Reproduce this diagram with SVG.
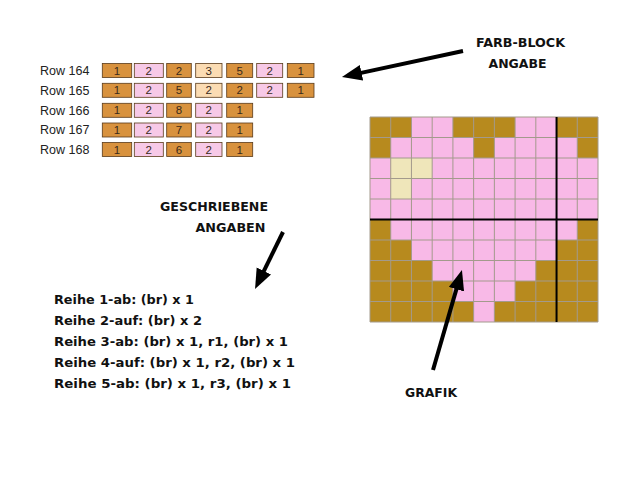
<svg xmlns="http://www.w3.org/2000/svg" width="640" height="480" viewBox="0 0 640 480">
<style>
.rl{font-family:"Liberation Sans",Arial,sans-serif;font-size:12.5px;fill:#222}
.cn{font-family:"Liberation Sans",Arial,sans-serif;font-size:11.5px;fill:#3a2a1a;text-anchor:middle}
.o{fill:#d8923e;stroke:#5a3b1a;stroke-width:0.8}
.p{fill:#f7c9e7;stroke:#5a3b1a;stroke-width:0.8}
.k{fill:#fbdcb3;stroke:#5a3b1a;stroke-width:0.8}
.lb{font-family:"Comic Sans MS","DejaVu Sans","Liberation Sans",sans-serif;font-weight:bold;font-size:12px;fill:#111}
.tx{font-family:"Comic Sans MS","DejaVu Sans","Liberation Sans",sans-serif;font-weight:bold;font-size:11.5px;fill:#111}
.gp{fill:#f8b9e7}
.gc{fill:#efe6ba}
.ar{stroke:#000;stroke-width:4;fill:none;marker-end:url(#ah)}
</style>
<defs>
<marker id="ah" markerUnits="userSpaceOnUse" markerWidth="22" markerHeight="18" refX="4" refY="8" orient="auto">
<path d="M0,0 L20,8 L0,16 z" fill="#000"/>
</marker>
</defs>
<rect width="640" height="480" fill="#fff"/>

<g id="table">
<text class="rl" x="40" y="75">Row 164</text>
<text class="rl" x="40" y="95">Row 165</text>
<text class="rl" x="40" y="114.5">Row 166</text>
<text class="rl" x="40" y="134">Row 167</text>
<text class="rl" x="40" y="153.5">Row 168</text>

<g id="row164">
<rect class="o" x="102.3" y="63.5" width="29.4" height="14"/><text class="cn" x="117" y="74.5">1</text>
<rect class="p" x="134.3" y="63.5" width="29" height="14"/><text class="cn" x="148.8" y="74.5">2</text>
<rect class="o" x="166.7" y="63.5" width="24.6" height="14"/><text class="cn" x="179" y="74.5">2</text>
<rect class="k" x="195.7" y="63.5" width="26.3" height="14"/><text class="cn" x="208.8" y="74.5">3</text>
<rect class="o" x="226.7" y="63.5" width="26" height="14"/><text class="cn" x="239.7" y="74.5">5</text>
<rect class="p" x="256.7" y="63.5" width="26" height="14"/><text class="cn" x="269.7" y="74.5">2</text>
<rect class="o" x="287.3" y="63.5" width="26.7" height="14"/><text class="cn" x="300.6" y="74.5">1</text>
</g>
<g id="row165">
<rect class="o" x="102.3" y="83.3" width="29.4" height="14"/><text class="cn" x="117" y="94.3">1</text>
<rect class="p" x="134.3" y="83.3" width="29" height="14"/><text class="cn" x="148.8" y="94.3">2</text>
<rect class="o" x="166.7" y="83.3" width="24.6" height="14"/><text class="cn" x="179" y="94.3">5</text>
<rect class="k" x="195.7" y="83.3" width="26.3" height="14"/><text class="cn" x="208.8" y="94.3">2</text>
<rect class="o" x="226.7" y="83.3" width="26" height="14"/><text class="cn" x="239.7" y="94.3">2</text>
<rect class="p" x="256.7" y="83.3" width="26" height="14"/><text class="cn" x="269.7" y="94.3">2</text>
<rect class="o" x="287.3" y="83.3" width="26.7" height="14"/><text class="cn" x="300.6" y="94.3">1</text>
</g>
<g id="row166">
<rect class="o" x="102.3" y="103.3" width="29.4" height="14"/><text class="cn" x="117" y="114.3">1</text>
<rect class="p" x="134.3" y="103.3" width="29" height="14"/><text class="cn" x="148.8" y="114.3">2</text>
<rect class="o" x="166.7" y="103.3" width="24.6" height="14"/><text class="cn" x="179" y="114.3">8</text>
<rect class="p" x="195.7" y="103.3" width="26.3" height="14"/><text class="cn" x="208.8" y="114.3">2</text>
<rect class="o" x="226.7" y="103.3" width="26" height="14"/><text class="cn" x="239.7" y="114.3">1</text>
</g>
<g id="row167">
<rect class="o" x="102.3" y="123" width="29.4" height="14"/><text class="cn" x="117" y="134">1</text>
<rect class="p" x="134.3" y="123" width="29" height="14"/><text class="cn" x="148.8" y="134">2</text>
<rect class="o" x="166.7" y="123" width="24.6" height="14"/><text class="cn" x="179" y="134">7</text>
<rect class="p" x="195.7" y="123" width="26.3" height="14"/><text class="cn" x="208.8" y="134">2</text>
<rect class="o" x="226.7" y="123" width="26" height="14"/><text class="cn" x="239.7" y="134">1</text>
</g>
<g id="row168">
<rect class="o" x="102.3" y="142.5" width="29.4" height="14"/><text class="cn" x="117" y="153.5">1</text>
<rect class="p" x="134.3" y="142.5" width="29" height="14"/><text class="cn" x="148.8" y="153.5">2</text>
<rect class="o" x="166.7" y="142.5" width="24.6" height="14"/><text class="cn" x="179" y="153.5">6</text>
<rect class="p" x="195.7" y="142.5" width="26.3" height="14"/><text class="cn" x="208.8" y="153.5">2</text>
<rect class="o" x="226.7" y="142.5" width="26" height="14"/><text class="cn" x="239.7" y="153.5">1</text>
</g>
</g>

<g id="grafik-grid">
<rect x="370" y="117" width="228" height="205" fill="#b78a1e"/>
<rect class="gp" x="411.45" y="117" width="41.46" height="20.5"/>
<rect class="gp" x="515.09" y="117" width="41.46" height="20.5"/>
<rect class="gp" x="390.73" y="137.5" width="82.91" height="20.5"/>
<rect class="gp" x="494.36" y="137.5" width="82.91" height="20.5"/>
<rect class="gp" x="370" y="158" width="228" height="61.5"/>
<rect class="gc" x="390.73" y="158" width="41.45" height="20.5"/>
<rect class="gc" x="390.73" y="178.5" width="20.73" height="20.5"/>
<rect class="gp" x="390.73" y="219.5" width="186.54" height="20.5"/>
<rect class="gp" x="411.45" y="240" width="145.1" height="20.5"/>
<rect class="gp" x="432.18" y="260.5" width="103.64" height="20.5"/>
<rect class="gp" x="452.91" y="281" width="62.18" height="20.5"/>
<rect class="gp" x="473.64" y="301.5" width="20.72" height="20.5"/>
<path fill="none" stroke="#a39a8c" stroke-width="1" d="M370,117V322M390.73,117V322M411.45,117V322M432.18,117V322M452.91,117V322M473.64,117V322M494.36,117V322M515.09,117V322M535.82,117V322M577.27,117V322M598,117V322M370,117H598M370,137.5H598M370,158H598M370,178.5H598M370,199H598M370,240H598M370,260.5H598M370,281H598M370,301.5H598M370,322H598"/>
<path fill="none" stroke="#000" stroke-width="2" d="M556.55,117V322M370,219.5H598"/>
</g>

<g id="labels">
<text class="lb" x="476" y="46.5" textLength="89" lengthAdjust="spacingAndGlyphs">FARB-BLOCK</text>
<text class="lb" x="488.5" y="68" textLength="58" lengthAdjust="spacingAndGlyphs">ANGABE</text>
<text class="lb" x="160" y="211" textLength="108" lengthAdjust="spacingAndGlyphs">GESCHRIEBENE</text>
<text class="lb" x="195.5" y="231.5" textLength="70" lengthAdjust="spacingAndGlyphs">ANGABEN</text>
<text class="lb" x="405" y="396.5" textLength="52" lengthAdjust="spacingAndGlyphs">GRAFIK</text>
</g>

<g id="written">
<text class="tx" x="54" y="304" textLength="140" lengthAdjust="spacingAndGlyphs">Reihe 1-ab: (br) x 1</text>
<text class="tx" x="54" y="324.5" textLength="148" lengthAdjust="spacingAndGlyphs">Reihe 2-auf: (br) x 2</text>
<text class="tx" x="54" y="345.7" textLength="234" lengthAdjust="spacingAndGlyphs">Reihe 3-ab: (br) x 1, r1, (br) x 1</text>
<text class="tx" x="54" y="366.7" textLength="241" lengthAdjust="spacingAndGlyphs">Reihe 4-auf: (br) x 1, r2, (br) x 1</text>
<text class="tx" x="54" y="387.7" textLength="237" lengthAdjust="spacingAndGlyphs">Reihe 5-ab: (br) x 1, r3, (br) x 1</text>
</g>

<g id="connectors">
<line class="ar" x1="463" y1="51" x2="357.6" y2="73.6"/>
<line class="ar" x1="283" y1="232" x2="262.1" y2="274.6"/>
<line class="ar" x1="433" y1="370" x2="457.5" y2="285.4"/>
</g>
</svg>
